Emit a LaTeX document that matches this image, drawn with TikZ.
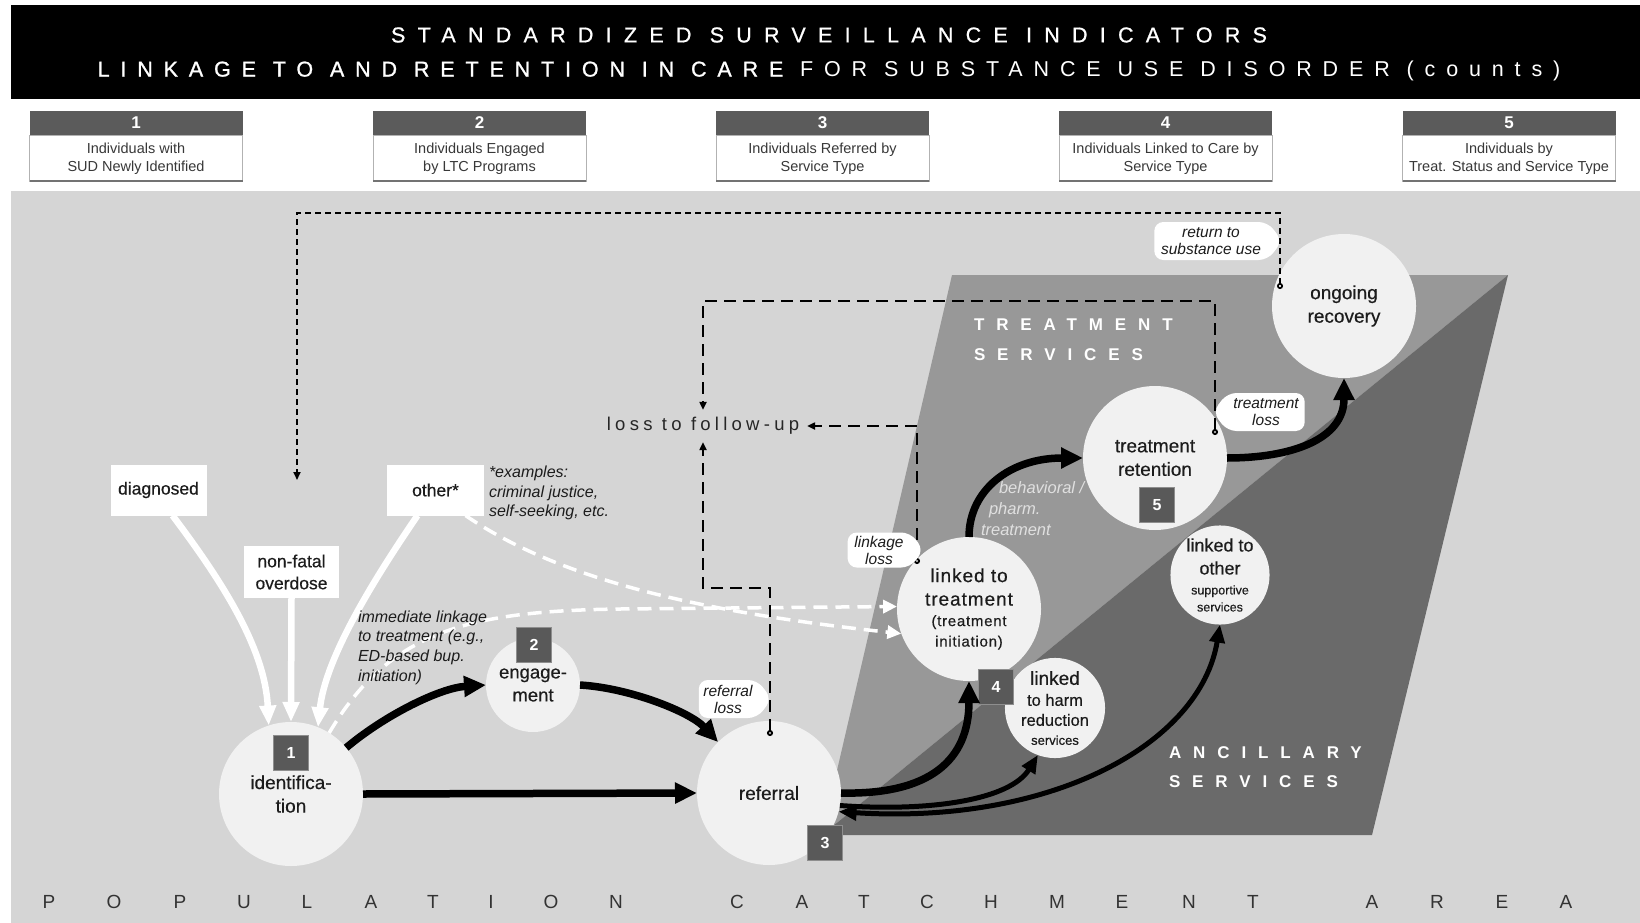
\documentclass[tikz,border=0pt]{standalone}
\usepackage{fontspec}
\setmainfont{Liberation Sans}
\setsansfont{Liberation Sans}
\newfontfamily\medf[FakeBold=0.4]{Liberation Sans}
\newfontfamily\ltf[LetterSpace=5,FakeBold=0.4]{Liberation Sans}
\newfontfamily\titleA[LetterSpace=57,FakeBold=0.8]{Liberation Sans}
\newfontfamily\titleBm[LetterSpace=50.5,FakeBold=1.2]{Liberation Sans}
\newfontfamily\titleB[LetterSpace=50.5]{Liberation Sans}
\newfontfamily\svcf[LetterSpace=70]{Liberation Sans}
\newfontfamily\lossf[LetterSpace=23]{Liberation Sans}
\usetikzlibrary{arrows.meta,shapes.symbols}
\definecolor{bggray}{HTML}{D5D5D5}
\definecolor{txgray}{HTML}{989898}
\definecolor{ancgray}{HTML}{6A6A6A}
\definecolor{circfill}{HTML}{F1F1F1}
\definecolor{badgefill}{HTML}{595959}
\definecolor{badgeline}{HTML}{8E8E8E}
\definecolor{hdrdark}{HTML}{5B5B5B}
\definecolor{txtdark}{HTML}{1C1C1C}
\definecolor{paletext}{HTML}{E0E0E0}
\begin{document}
\begin{tikzpicture}[x=1pt,y=-1pt,
  every node/.style={inner sep=0pt, outer sep=0pt},
  stage/.style={circle, fill=circfill, minimum size=144pt, align=center, text=txtdark, font=\medf\fontsize{19}{23.5}\selectfont},
  stagesm/.style={circle, fill=circfill, minimum size=96pt, align=center, text=txtdark},
  badge/.style={rectangle, fill=badgefill, draw=badgeline, line width=1pt, minimum width=35pt, minimum height=35pt, text=white, font=\bfseries\fontsize{16}{16}\selectfont},
  srcbox/.style={rectangle, fill=white, align=center, text=txtdark, font=\medf\fontsize{17.5}{22}\selectfont},
  indhead/.style={rectangle, fill=hdrdark, minimum width=213pt, minimum height=24pt, text=white, font=\bfseries\fontsize{17}{17}\selectfont},
  indbody/.style={rectangle, fill=white, draw=black!30, line width=0.8pt, minimum width=213pt, minimum height=46pt},
  indtext/.style={align=center, text=black!78, font=\fontsize{14.5}{17.5}\selectfont},
  tagE/.style={shape=signal, signal to=east, signal pointer angle=105, fill=white, rounded corners=9pt, align=center, text=txtdark, font=\itshape\fontsize{15.5}{17}\selectfont},
  tagW/.style={shape=signal, signal to=west, signal pointer angle=105, fill=white, rounded corners=9pt, align=center, text=txtdark, font=\itshape\fontsize{15.5}{17}\selectfont},
  note/.style={align=left, text=txtdark, font=\itshape\fontsize{16}{19.7}\selectfont},
  svc/.style={align=left, text=white, font=\svcf\bfseries\fontsize{17}{29.5}\selectfont},
  popletter/.style={text=black!80, font=\fontsize{19}{19}\selectfont},
  srcarrow/.style={draw=white, line width=6.5pt, -{Triangle[length=20pt,width=16pt]}},
  dashwhite/.style={draw=white, line width=3.5pt, dash pattern=on 14pt off 8pt, -{Triangle[length=14pt,width=13pt,fill=white]}},
  flowarrow/.style={draw=black, line width=7.5pt, -{Triangle[length=22pt,width=20pt]}},
  flowthin/.style={draw=black, line width=5pt, -{Triangle[length=18pt,width=15pt]}},
  flowboth/.style={draw=black, line width=5pt, {Triangle[length=18pt,width=15pt]}-{Triangle[length=18pt,width=15pt]}},
  lossA/.style={draw=black, line width=1.7pt, dash pattern=on 6pt off 4pt, {Circle[length=6pt,fill=circfill]}-{Triangle[length=8pt,width=7pt]}},
  lossB/.style={draw=black, line width=1.9pt, dash pattern=on 12pt off 7pt, {Circle[length=6pt,fill=circfill]}-{Triangle[length=8pt,width=7pt]}}
]
\useasboundingbox (0,0) rectangle (1640,923);
\fill[white] (0,0) rectangle (1640,923);
\fill[black] (11,5) rectangle (1640,99);
\fill[bggray] (11,191) rectangle (1640,923);

% title
\node[text=white, font=\titleA\fontsize{21.5}{21.5}\selectfont] (title1) at (829,35) {STANDARDIZED SURVEILLANCE INDICATORS};
\node[text=white, font=\titleB\fontsize{21.5}{21.5}\selectfont] (title2) at (829,71) {{\titleBm LINKAGE TO AND RETENTION IN CARE} FOR SUBSTANCE USE DISORDER (counts)};

% indicator boxes
\foreach \i/\cx/\ta/\tb in {1/136/Individuals with/SUD Newly Identified,
  2/479.5/Individuals Engaged/by LTC Programs,
  3/822.5/Individuals Referred by/Service Type,
  4/1165.5/Individuals Linked to Care by/Service Type,
  5/1509/Individuals by/Treat. Status and Service Type}{
  \node[indbody] (ib\i) at (\cx,158) {};
  \draw[black!55, line width=1.3pt] (ib\i.south west) -- (ib\i.south east);
  \node[indhead] (ih\i) at (\cx,123) {\i};
  \node[indtext] (it\i) at (\cx,159) {\ta\\\tb};
}

% service areas
\fill[txgray] (952,275) -- (1508,275) -- (822,835) -- cycle;
\fill[ancgray] (1508,275) -- (1372,835) -- (822,835) -- cycle;
\node[svc, anchor=west] (tsvc) at (974,339.5) {TREATMENT\\SERVICES};
\node[svc, anchor=west] (asvc) at (1169,767) {ANCILLARY\\SERVICES};

% source boxes
\node[srcbox, minimum width=96pt, minimum height=51pt] (diag) at (158.5,490) {diagnosed};
\node[srcbox, minimum width=97pt, minimum height=51pt] (othbox) at (435.5,490) {other*};
\node[srcbox, minimum width=95pt, minimum height=52pt] (nfo) at (291.5,572) {non-fatal\\overdose};

% stages
\node[stage] (ident) at (291,794) {identifica-\\tion};
\node[stagesm, minimum size=94pt, font=\medf\fontsize{18.5}{23}\selectfont] (eng) at (533,685) {engage-\\ment};
\node[stage] (ref) at (769,793) {referral};
\node[stage, font=\ltf\fontsize{19}{20.5}\selectfont] (lt) at (969,609) {linked to\\[3pt]treatment\\{\fontsize{15}{16}\selectfont (treatment}\\{\fontsize{15}{16}\selectfont initiation)}};
\node[stagesm, font=\medf\fontsize{19}{20}\selectfont] (harm) at (1055,708) {linked\\[1pt]{\fontsize{16.5}{18}\selectfont to harm}\\{\fontsize{16.5}{18}\selectfont reduction}\\[-1pt]{\fontsize{13}{14}\selectfont services}};
\node[stagesm, font=\medf\fontsize{18}{20}\selectfont] (oth) at (1220,575) {linked to\\[3pt]other\\{\fontsize{12.5}{14}\selectfont supportive}\\[-3pt]{\fontsize{12.5}{14}\selectfont services}};
\node[stage] (ret) at (1155,458) {treatment\\retention};
\node[stage] (rec) at (1344,306) {ongoing\\recovery};

% white arrows into identification
\draw[srcarrow] ([xshift=14pt]diag.south) .. controls (225,585) and (265,650) .. (ident.108);
\draw[srcarrow] (nfo.south) -- (ident.north);
\draw[srcarrow] ([xshift=-18pt]othbox.south) .. controls (370,585) and (325,660) .. (ident.68);

% white dashed direct linkage
\draw[dashwhite] ([xshift=30pt]othbox.south) .. controls (560,580) and (700,612) .. (lt.200);
\draw[dashwhite] (ident.58) .. controls (390,630) and (470,611) .. (620,609) -- (lt.178);

% badges
\node[badge] (b1) at (291,753) {1};
\node[badge] (b2) at (534,645) {2};
\node[badge] (b3) at (825,843) {3};
\node[badge] (b4) at (996,687) {4};
\node[badge] (b5) at (1157,505) {5};

% flow arrows
\draw[flowarrow] (ident.40) .. controls (385,715) and (440,688) .. (eng.180);
\draw[flowarrow] (ident.east) -- (ref.west);
\draw[flowarrow] (eng.east) .. controls (630,688) and (690,712) .. (ref.135);
\draw[flowarrow] (ref.east) .. controls (930,795) and (969,760) .. (lt.south);
\draw[flowarrow] (lt.north) .. controls (969,490) and (1010,458) .. (ret.west);
\draw[flowarrow] (ret.east) .. controls (1290,458) and (1344,440) .. (rec.south);
\draw[flowboth] (ref.-15) .. controls (1050,825) and (1200,745) .. (oth.south);
\draw[flowthin] (ref.-10) .. controls (930,812) and (1010,800) .. (harm.250);

% loss to follow-up
\node[text=black!85, font=\lossf\fontsize{18.5}{18.5}\selectfont, inner xsep=8pt, inner ysep=7.5pt] (loss) at (703,426) {loss to follow-up};

\coordinate (recmark) at (1280,289);
\coordinate (loopA1) at (1280,213);
\coordinate (loopA2) at (297,213);
\coordinate (reentry) at (297,480);
\draw[lossA] (recmark) -- (loopA1) -- (loopA2) -- (reentry);

\coordinate (retmark) at (1215,435);
\coordinate (loopB1) at (1215,301);
\coordinate (loopB2) at (703,301);
\draw[lossB] (retmark) -- (loopB1) -- (loopB2) -- (loss.north);

\coordinate (ltmark) at (917,564);
\coordinate (loopC1) at (917,426);
\draw[lossB] (ltmark) -- (loopC1) -- (loss.east);

\coordinate (refmark) at (770,736);
\coordinate (loopD1) at (770,588);
\coordinate (loopD2) at (703,588);
\draw[lossB] (refmark) -- (loopD1) -- (loopD2) -- (loss.south);

% tags
\node[tagE, minimum width=128pt, minimum height=38pt] (rettag) at (1211,241) {return to\\substance use};
\node[tagW, minimum width=92pt, minimum height=38pt] (tltag) at (1266,412) {treatment\\loss};
\node[tagE, minimum width=76pt, minimum height=35pt] (lktag) at (879,550) {linkage\\loss};
\node[tagE, minimum width=73pt, minimum height=38pt] (rftag) at (728,699) {referral\\loss};

% notes
\node[note, anchor=west] (examples) at (489,493) {*examples:\\criminal justice,\\self-seeking, etc.};
\node[note, anchor=west] (immed) at (358,647.5) {immediate linkage\\to treatment (e.g.,\\ED-based bup.\\initiation)};
\node[note, anchor=west, text=paletext, font=\itshape\fontsize{16.5}{21}\selectfont] (behav) at (981,509) {\hspace*{18pt}behavioral /\\\hspace*{8pt}pharm.\\treatment};

% population catchment area
\foreach \x/\l [count=\k] in {49/P,114/O,180/P,244/U,307/L,371/A,433/T,491/I,551/O,616/N,737/C,802/A,864/T,927/C,991/H,1057/M,1122/E,1189/N,1253/T,1372/A,1437/R,1502/E,1566/A}
  \node[popletter] (pop\k) at (\x,902) {\l};
\end{tikzpicture}
\end{document}
